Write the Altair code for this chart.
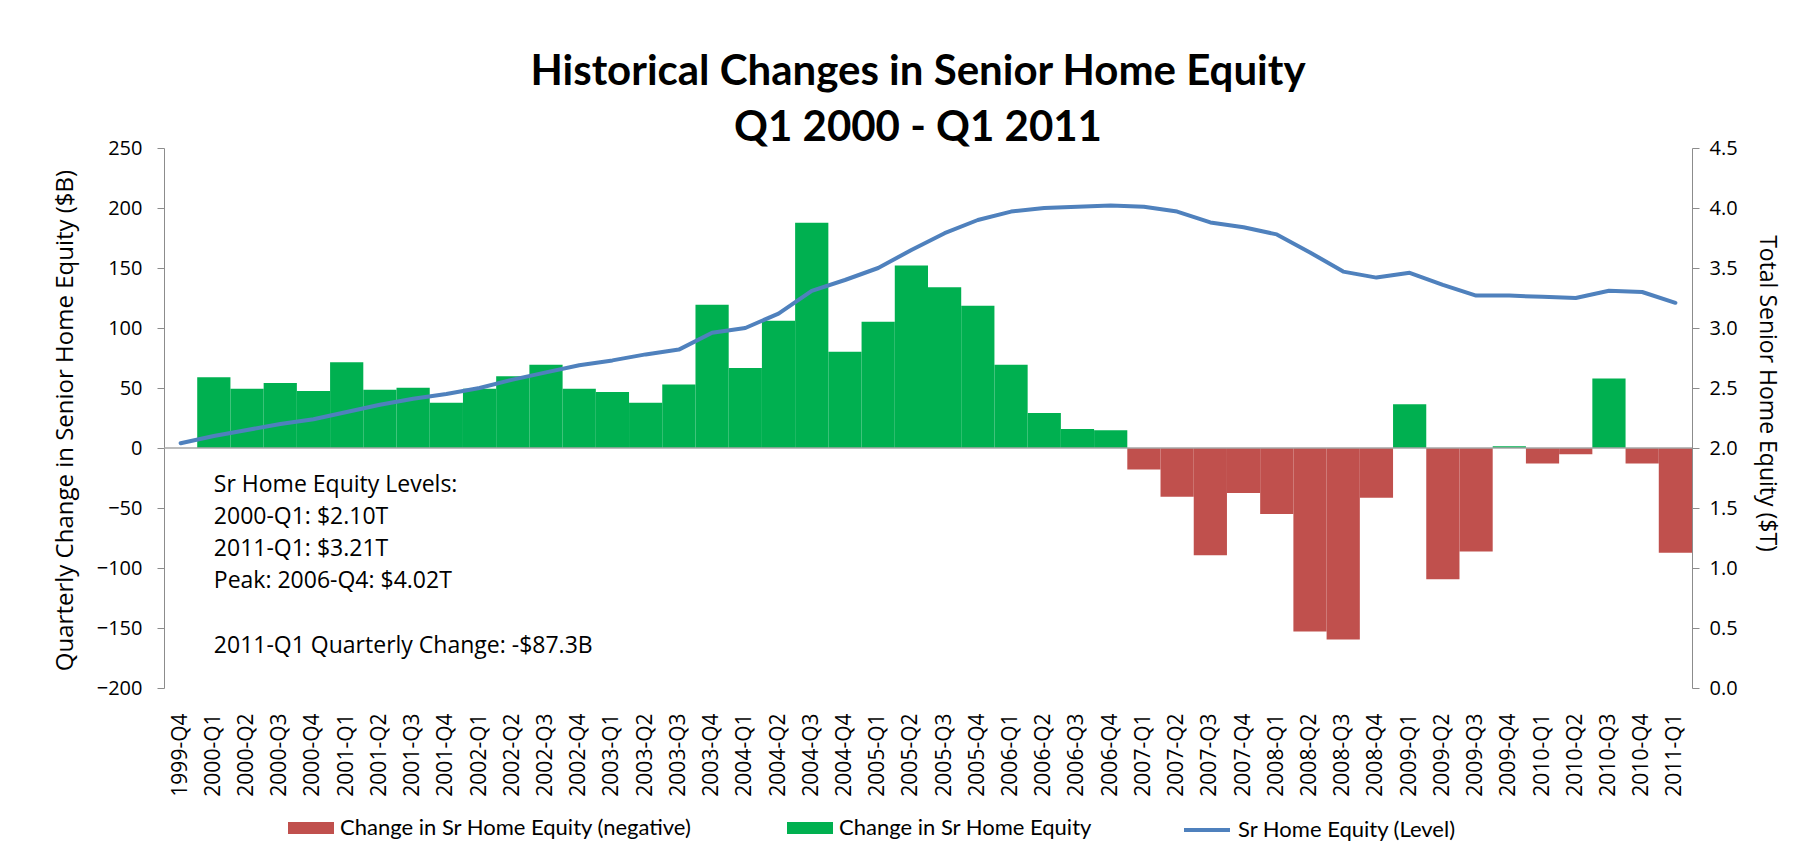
import altair as alt
import pandas as pd

quarters = [
    "1999-Q4",
    "2000-Q1", "2000-Q2", "2000-Q3", "2000-Q4",
    "2001-Q1", "2001-Q2", "2001-Q3", "2001-Q4",
    "2002-Q1", "2002-Q2", "2002-Q3", "2002-Q4",
    "2003-Q1", "2003-Q2", "2003-Q3", "2003-Q4",
    "2004-Q1", "2004-Q2", "2004-Q3", "2004-Q4",
    "2005-Q1", "2005-Q2", "2005-Q3", "2005-Q4",
    "2006-Q1", "2006-Q2", "2006-Q3", "2006-Q4",
    "2007-Q1", "2007-Q2", "2007-Q3", "2007-Q4",
    "2008-Q1", "2008-Q2", "2008-Q3", "2008-Q4",
    "2009-Q1", "2009-Q2", "2009-Q3", "2009-Q4",
    "2010-Q1", "2010-Q2", "2010-Q3", "2010-Q4",
    "2011-Q1",
]

# Quarterly change in senior home equity ($B)
change_b = [
    None,
    58.9, 49.4, 54.2, 47.5,
    71.4, 48.6, 50.3, 37.8,
    49.4, 59.7, 69.4, 49.4,
    46.7, 37.8, 53.0, 119.4,
    66.7, 106.0, 187.8, 80.3,
    105.3, 152.0, 133.9, 118.6,
    69.4, 29.2, 15.8, 14.7,
    -17.9, -40.7, -89.3, -37.6,
    -54.9, -153.0, -159.6, -41.5,
    36.5, -109.3, -86.3, 1.4,
    -12.9, -5.2, 58.0, -12.9,
    -87.3,
]

# Total senior home equity level ($T)
level_t = [
    2.04,
    2.10, 2.15, 2.20, 2.24,
    2.30, 2.36, 2.41, 2.45,
    2.50, 2.57, 2.63, 2.69,
    2.73, 2.78, 2.82, 2.96,
    3.00, 3.12, 3.31, 3.40,
    3.50, 3.65, 3.79, 3.90,
    3.97, 4.00, 4.01, 4.02,
    4.01, 3.97, 3.88, 3.84,
    3.78, 3.63, 3.47, 3.42,
    3.46, 3.36, 3.27, 3.27,
    3.26, 3.25, 3.31, 3.30,
    3.21,
]

left_ticks = [-200, -150, -100, -50, 0, 50, 100, 150, 200, 250]
right_ticks = [0.0, 0.5, 1.0, 1.5, 2.0, 2.5, 3.0, 3.5, 4.0, 4.5]

# Annotation box: text blocks and the left-axis value ($B) of each block's first baseline
note_blocks = [
    "Sr Home Equity Levels:\n2000-Q1: $2.10T\n2011-Q1: $3.21T\nPeak: 2006-Q4: $4.02T",
    "2011-Q1 Quarterly Change: -$87.3B",
]
note_anchor_b = [-37, -171]

title_lines = ["Historical Changes in Senior Home Equity", "Q1 2000 - Q1 2011"]

NEG = "Change in Sr Home Equity (negative)"
POS = "Change in Sr Home Equity"
LVL = "Sr Home Equity (Level)"
RED = "#C0504D"
GREEN = "#00B050"
BLUE = "#4F81BD"
AXIS_GREY = "#8C8C8C"

TEXT_FONT = "Open Sans"
TITLE_FONT = "Lato"
LEGEND_FONT = "Lato"

df = pd.DataFrame({"quarter": quarters, "change": change_b, "level": level_t})
df["series"] = [None if pd.isna(c) else (NEG if c < 0 else POS) for c in df["change"]]
df["line_name"] = LVL
bars_df = df.dropna(subset=["change"])

notes_df = pd.DataFrame({"q": ["2000-Q1"] * len(note_blocks), "v": note_anchor_b, "t": note_blocks})

W, H = 1528, 540

x_enc = alt.X(
    "quarter:N",
    sort=quarters,
    scale=alt.Scale(domain=quarters, paddingInner=0, paddingOuter=0),
    axis=alt.Axis(
        title=None,
        labelAngle=-90,
        labelFont=TEXT_FONT,
        labelFontSize=21,
        labelColor="#000000",
        labelPadding=25,
        labelOverlap=False,
        ticks=False,
        tickSize=0,
        domain=False,
    ),
)

rect_path = "M-1,-0.26H1V0.26H-1Z"

bars = alt.Chart(bars_df).mark_bar(strokeWidth=0).encode(
    x=x_enc,
    y=alt.Y(
        "change:Q",
        scale=alt.Scale(domain=[-200, 250], nice=False, zero=False),
        axis=alt.Axis(
            values=left_ticks,
            title="Quarterly Change in Senior Home Equity ($B)",
            titleFont=TEXT_FONT,
            titleFontSize=24,
            titleFontWeight="normal",
            titleColor="#000000",
            titleAngle=-90,
            titleX=-99,
            titleY=272,
            titleAlign="center",
            titleBaseline="middle",
            labelFont=TEXT_FONT,
            labelFontSize=20,
            labelColor="#000000",
            labelPadding=15,
            tickSize=7,
            tickColor=AXIS_GREY,
            domainColor=AXIS_GREY,
            grid=False,
        ),
    ),
    color=alt.Color(
        "series:N",
        scale=alt.Scale(domain=[NEG, POS], range=[RED, GREEN]),
        legend=alt.Legend(
            orient="none",
            legendX=124,
            legendY=657,
            direction="horizontal",
            title=None,
            symbolSize=2116,
            symbolType=rect_path,
            symbolStrokeWidth=0,
            symbolOpacity=1,
            labelFont=LEGEND_FONT,
            labelFontSize=22,
            labelColor="#000000",
            labelOffset=6,
            columnPadding=95,
            labelLimit=600,
        ),
    ),
)

zero_rule = alt.Chart(pd.DataFrame({"z": [0]})).mark_rule(
    color="#A6A6A6", strokeWidth=1.5
).encode(y=alt.Y("z:Q"))

note = alt.Chart(notes_df).mark_text(
    align="left",
    baseline="alphabetic",
    font=TEXT_FONT,
    fontSize=23,
    lineHeight=32,
    color="#000000",
    lineBreak="\n",
).encode(
    x=alt.X("q:N", sort=quarters),
    y=alt.Y("v:Q"),
    text=alt.Text("t:N"),
)

left_layer = alt.layer(bars, zero_rule, note)

level_line = alt.Chart(df).mark_line(strokeWidth=4, strokeJoin="round", strokeCap="round").encode(
    x=alt.X("quarter:N", sort=quarters),
    y=alt.Y(
        "level:Q",
        scale=alt.Scale(domain=[0, 4.5], nice=False, zero=False),
        axis=alt.Axis(
            orient="right",
            values=right_ticks,
            format=".1f",
            title="Total Senior Home Equity ($T)",
            titleFont=TEXT_FONT,
            titleFontSize=23,
            titleFontWeight="normal",
            titleColor="#000000",
            titleAngle=90,
            titleX=74,
            titleY=245,
            titleAlign="center",
            titleBaseline="middle",
            labelFont=TEXT_FONT,
            labelFontSize=20,
            labelColor="#000000",
            labelPadding=10,
            tickSize=7,
            tickColor=AXIS_GREY,
            domainColor=AXIS_GREY,
            grid=False,
        ),
    ),
    stroke=alt.Stroke(
        "line_name:N",
        scale=alt.Scale(domain=[LVL], range=[BLUE]),
        legend=alt.Legend(
            orient="none",
            legendX=1018,
            legendY=657,
            direction="horizontal",
            title=None,
            symbolSize=2116,
            symbolType="stroke",
            symbolStrokeWidth=4,
            symbolOpacity=1,
            labelFont=LEGEND_FONT,
            labelFontSize=22,
            labelColor="#000000",
            labelOffset=6,
            labelLimit=600,
        ),
    ),
)

chart = (
    alt.layer(left_layer, level_line)
    .resolve_scale(y="independent")
    .properties(
        width=W,
        height=H,
        title=alt.TitleParams(
            text=title_lines,
            font=TITLE_FONT,
            fontSize=42,
            fontWeight="bold",
            color="#000000",
            anchor="middle",
            frame="group",
            baseline="bottom",
            lineHeight=56,
            offset=2,
            dx=-10,
            dy=56,
        ),
        padding={"left": 156, "top": 140, "right": 110, "bottom": 157},
        autosize=alt.AutoSizeParams(type="none"),
        background="#FFFFFF",
    )
    .configure_view(stroke=None)
)

chart.save("out.html", embed_options={"renderer": "svg", "actions": False})
